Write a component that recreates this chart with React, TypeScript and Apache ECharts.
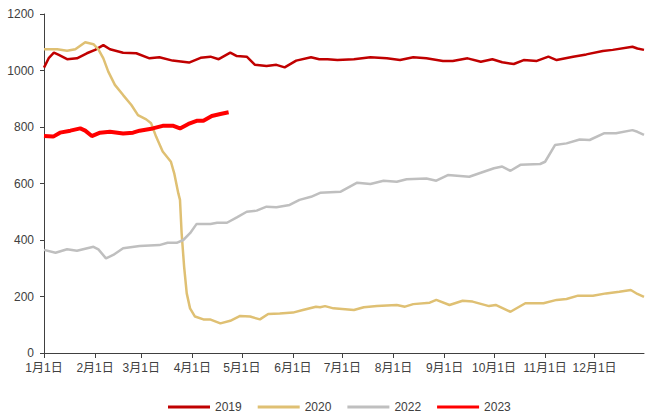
import React, { useEffect, useRef } from "react";
import * as echarts from "echarts";

const monthStarts = [0, 31, 59, 90, 120, 151, 181, 212, 243, 273, 304, 334];
const monthLabels = ["1月1日", "2月1日", "3月1日", "4月1日", "5月1日", "6月1日", "7月1日", "8月1日", "9月1日", "10月1日", "11月1日", "12月1日"];
const yTicks = [0, 200, 400, 600, 800, 1000, 1200];

const days2019 = [0, 3, 6, 9, 14, 20, 26, 31, 36, 40, 48, 56, 64, 70, 78, 88, 95, 101, 106, 113, 117, 123, 128, 135, 141, 146, 153, 162, 167, 172, 178, 188, 198, 208, 216, 224, 232, 242, 248, 257, 265, 272, 278, 285, 291, 299, 306, 311, 321, 329, 339, 345, 357, 360, 364];
const vals2019 = [1010, 1045, 1063, 1055, 1040, 1043, 1061, 1073, 1090, 1075, 1063, 1061, 1043, 1047, 1035, 1028, 1045, 1049, 1040, 1063, 1051, 1049, 1020, 1016, 1020, 1011, 1035, 1047, 1040, 1040, 1037, 1040, 1047, 1043, 1037, 1047, 1043, 1034, 1034, 1043, 1031, 1040, 1029, 1023, 1037, 1034, 1049, 1037, 1049, 1057, 1069, 1073, 1084, 1078, 1073];

const days2020 = [0, 8, 14, 19, 25, 30, 33, 36, 39, 43, 48, 53, 57, 62, 65, 68, 72, 77, 79, 81.5, 82.5, 83.5, 85, 86.6, 88.6, 91.6, 96.7, 100.7, 107, 113, 119, 125, 131, 136, 143, 151, 157, 165, 167.5, 170.5, 175.6, 188, 194, 202, 214, 219, 224, 234, 238, 246, 254, 260, 270, 274, 283, 292, 303, 311, 317, 324, 333, 341, 349, 356, 360, 364];
const vals2020 = [1075, 1075, 1070, 1075, 1100, 1093, 1075, 1043, 996, 949, 913, 878, 842, 827, 813, 766, 713, 677, 636, 565, 542, 424, 306, 211, 158, 129, 119, 119, 105, 114, 131, 129, 119, 138, 140, 143, 152, 164, 162, 166, 158, 152, 162, 166, 170, 164, 173, 178, 188, 170, 185, 182, 166, 170, 146, 176, 176, 188, 191, 203, 203, 211, 217, 223, 209, 199];

const days2022 = [0, 7, 14, 20, 30, 33, 37.6, 42, 48, 58, 70, 75, 80.5, 84.5, 88.6, 92.6, 101, 105, 111, 117, 123, 129, 135, 141, 149, 155, 162, 167.5, 180, 190, 198, 206, 214, 220, 232, 238, 245, 258, 265, 273, 278, 283, 289, 301, 304, 310, 317, 325, 331, 340, 347, 357, 360, 364];
const vals2022 = [365, 355, 367, 362, 376, 367, 335, 347, 371, 379, 382, 390, 390, 400, 424, 457, 457, 461, 461, 480, 500, 504, 518, 516, 524, 542, 553, 567, 571, 603, 598, 610, 606, 615, 618, 610, 630, 624, 638, 654, 660, 645, 666, 669, 677, 736, 742, 756, 754, 778, 778, 789, 783, 772];

const days2023 = [0, 5.6, 9.7, 16, 22, 25, 29, 34, 40, 48, 54, 58, 66, 72, 78.5, 82.5, 87.6, 92.6, 96.7, 101.8, 107, 112];
const vals2023 = [768, 766, 780, 787, 795, 787, 768, 780, 783, 777, 780, 787, 795, 804, 804, 795, 811, 822, 822, 839, 846, 852];

const pairs = (d: number[], v: number[]) => d.map((x, i) => [x, v[i]]);

export default function App() {
  const ref = useRef<HTMLDivElement>(null);
  useEffect(() => {
    if (!ref.current) return;
    const chart = echarts.init(ref.current, null, { renderer: "svg" });
    const axisColor = "#404040";
    const textColor = "#404040";
    const font = "Liberation Sans, Arial, Noto Sans CJK SC, sans-serif";
    chart.setOption({
      animation: false,
      textStyle: { fontFamily: font },
      grid: { left: 44, right: 1, top: 14, bottom: 61 },
      legend: {
        left: 163,
        top: 396,
        itemWidth: 42,
        itemHeight: 3,
        itemGap: 16,
        icon: "rect",
        textStyle: { fontSize: 12, color: textColor, fontFamily: font },
        data: ["2019", "2020", "2022", "2023"],
      },
      xAxis: {
        type: "value",
        min: 0,
        max: 364,
        splitLine: { show: false },
        axisLine: { show: true, lineStyle: { color: axisColor, width: 1 } },
        axisTick: { show: true, length: 5, customValues: monthStarts, lineStyle: { color: axisColor } },
        axisLabel: {
          customValues: monthStarts,
          margin: 9,
          fontSize: 12,
          color: textColor,
          fontFamily: font,
          formatter: (v: number) => {
            const i = monthStarts.indexOf(Math.round(v));
            return i >= 0 ? monthLabels[i] : "";
          },
        },
      },
      yAxis: {
        type: "value",
        min: yTicks[0],
        max: yTicks[yTicks.length - 1],
        interval: 200,
        splitLine: { show: false },
        axisLine: { show: true, lineStyle: { color: axisColor, width: 1 } },
        axisTick: { show: true, length: 4, lineStyle: { color: axisColor } },
        axisLabel: { margin: 10, fontSize: 12, color: textColor, fontFamily: font, formatter: (v: number) => String(v) },
      },
      series: [
        { name: "2019", type: "line", data: pairs(days2019, vals2019), showSymbol: false, symbol: "none", lineStyle: { color: "#C00000", width: 2.5 }, itemStyle: { color: "#C00000" } },
        { name: "2020", type: "line", data: pairs(days2020, vals2020), showSymbol: false, symbol: "none", lineStyle: { color: "#DFC073", width: 2.5 }, itemStyle: { color: "#DFC073" } },
        { name: "2022", type: "line", data: pairs(days2022, vals2022), showSymbol: false, symbol: "none", lineStyle: { color: "#BFBFBF", width: 2.5 }, itemStyle: { color: "#BFBFBF" } },
        { name: "2023", type: "line", data: pairs(days2023, vals2023), showSymbol: false, symbol: "none", lineStyle: { color: "#FF0000", width: 4 }, itemStyle: { color: "#FF0000" } },
      ],
    });
    return () => chart.dispose();
  }, []);
  return <div ref={ref} style={{ position: "absolute", left: 0, top: 0, width: 645, height: 414 }} />;
}
